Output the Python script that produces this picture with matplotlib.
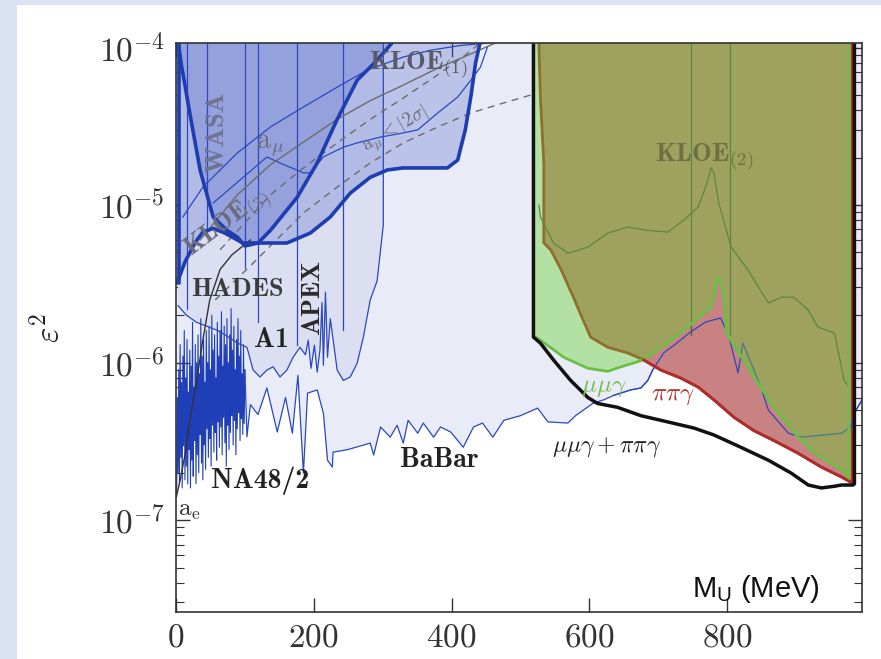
import matplotlib
matplotlib.use("Agg")
import matplotlib.pyplot as plt
from matplotlib.patches import Rectangle
from matplotlib.ticker import FixedLocator, LogLocator, FuncFormatter, NullFormatter
import numpy as np

plt.rcParams["mathtext.fontset"] = "cm"
plt.rcParams["mathtext.rm"] = "Liberation Sans"   # only used by the axis note (custom fontset)

TOP = 1.5e-4   # exclusion regions run up past the plotted range

# ── lower envelope of the combined exclusion: NA48/2 spikes, then BaBar ──────
na48_mev = [1, 2, 3, 4, 5, 6, 7, 8, 9, 10, 11, 12, 13, 14, 15, 16, 17, 18, 19,
            20, 21, 22, 23, 24, 25, 26, 27, 28, 29, 30, 31, 32, 33, 34, 35, 36,
            37, 38, 39, 40, 41, 42, 43, 44, 45, 46, 47, 48, 49, 50, 51, 52, 53,
            54, 55, 56, 57, 58, 59, 60, 61, 62, 63, 64, 65, 66, 67, 68, 69, 70,
            71, 72, 73, 74, 75, 76, 77, 78, 79, 80, 81, 82, 83, 84, 85, 86, 87,
            88, 89, 90, 91, 92, 93, 94, 95, 96, 97, 98, 99, 100]
na48_eps2 = [1.5e-7, 6.0e-7, 2.0e-7, 9.0e-7, 1.7e-7, 1.3e-6, 2.5e-7, 7.5e-7,
             1.6e-7, 1.1e-6, 3.0e-7, 1.6e-6, 1.8e-7, 8.0e-7, 2.2e-7, 1.4e-6,
             1.7e-7, 6.5e-7, 2.8e-7, 1.2e-6, 1.6e-7, 9.5e-7, 2.4e-7, 1.8e-6,
             1.9e-7, 7.0e-7, 3.2e-7, 1.3e-6, 1.7e-7, 1.0e-6, 2.6e-7, 1.5e-6,
             2.0e-7, 8.5e-7, 3.5e-7, 1.9e-6, 2.3e-7, 1.1e-6, 1.8e-7, 1.4e-6,
             3.0e-7, 7.5e-7, 2.1e-7, 1.6e-6, 3.8e-7, 1.0e-6, 2.5e-7, 1.7e-6,
             3.3e-7, 9.0e-7, 2.2e-7, 2.0e-6, 4.0e-7, 1.2e-6, 2.7e-7, 1.5e-6,
             3.6e-7, 8.0e-7, 2.4e-7, 1.8e-6, 4.2e-7, 1.1e-6, 2.9e-7, 1.6e-6,
             3.9e-7, 2.1e-6, 2.6e-7, 9.5e-7, 4.5e-7, 1.7e-6, 3.1e-7, 1.3e-6,
             2.2e-7, 1.9e-6, 4.0e-7, 1.0e-6, 2.8e-7, 1.5e-6, 3.6e-7, 2.2e-6,
             4.6e-7, 1.2e-6, 3.0e-7, 1.7e-6, 4.3e-7, 9.0e-7, 2.6e-7, 1.4e-6,
             3.8e-7, 1.9e-6, 4.8e-7, 1.1e-6, 3.2e-7, 1.6e-6, 4.4e-7, 8.5e-7,
             3.5e-7, 1.3e-6, 4.1e-7, 9.0e-7]

babar_mev = [103, 108, 119, 132, 147, 159, 169, 177, 185, 191, 205, 214, 220,
             227, 228, 249, 282, 287, 297, 311, 321, 330, 337, 351, 359, 374,
             384, 399, 417, 432, 445, 460, 476, 500, 525, 540, 569, 580, 605,
             621, 636, 660, 675, 685, 692, 708, 729, 745, 769, 791, 803, 816,
             823, 849, 860, 889, 908, 966, 980, 985, 996]
babar_eps2 = [3.38e-7, 5.4e-7, 4.68e-7, 6.9e-7, 3.62e-7, 6.0e-7, 3.56e-7, 8.3e-7,
              1.99e-7, 6.4e-7, 6.7e-7, 4.77e-7, 2.4e-7, 2.17e-7, 2.7e-7, 2.8e-7,
              3.08e-7, 2.59e-7, 3.9e-7, 3.36e-7, 4.0e-7, 3.08e-7, 4.3e-7, 3.56e-7,
              4.13e-7, 3.36e-7, 3.9e-7, 3.62e-7, 2.9e-7, 3.9e-7, 4.13e-7, 3.36e-7,
              4.3e-7, 4.6e-7, 5.14e-7, 4.2e-7, 4.13e-7, 4.6e-7, 5.5e-7, 5.8e-7,
              6.2e-7, 6.7e-7, 6.9e-7, 7.7e-7, 8.96e-7, 1.15e-6, 1.35e-6, 1.54e-6,
              1.81e-6, 1.92e-6, 1.45e-6, 8.6e-7, 1.33e-6, 7.0e-7, 5.0e-7, 3.56e-7,
              3.36e-7, 3.56e-7, 3.9e-7, 4.77e-7, 5.8e-7]

# ── A1 / APEX ────────────────────────────────────────────────────────────────
a1_mev = [3, 15, 30, 45, 60, 71, 89, 103, 112, 122, 132, 141, 151, 161, 170,
          180, 188, 192, 196, 201, 205, 209, 212, 214, 217, 220, 224, 234, 243,
          253, 263, 272, 282, 292, 301]
a1_eps2 = [2.3e-6, 2.0e-6, 1.8e-6, 1.7e-6, 1.6e-6, 1.5e-6, 1.33e-6, 1.25e-6,
           8.96e-7, 8.1e-7, 8.96e-7, 9.4e-7, 8.1e-7, 8.96e-7, 1.08e-6, 1.25e-6,
           1.12e-6, 1.39e-6, 9.2e-7, 1.29e-6, 8.7e-7, 1.2e-6, 2.4e-6, 9.6e-7,
           2.8e-6, 1.08e-6, 1.9e-6, 8.96e-7, 7.7e-7, 8.1e-7, 9.9e-7, 1.45e-6,
           2.5e-6, 3.3e-6, 7.5e-6]

# ── KLOE(1) / HADES lower boundary and WASA ──────────────────────────────────
kloe1_mev = [0, 1.5, 13, 28, 39, 54, 71, 97, 137, 161, 195, 224, 253, 282, 307,
             330, 394, 409, 420, 428, 435, 442]
kloe1_eps2 = [3.4e-6, 3.2e-6, 4.35e-6, 5.8e-6, 6.74e-6, 7.1e-6, 6.64e-6, 5.74e-6,
              5.74e-6, 5.74e-6, 6.64e-6, 8.4e-6, 1.19e-5, 1.5e-5, 1.67e-5,
              1.72e-5, 1.72e-5, 1.93e-5, 3.0e-5, 4.85e-5, 8.0e-5, 1.1e-4]

wasa_mev = [4.4, 7.3, 20, 35, 39, 54, 74, 89, 100, 119, 137, 176, 205, 234, 263,
            292, 316]
wasa_eps2 = [1.0e-4, 8.0e-5, 3.84e-5, 1.67e-5, 1.44e-5, 8.4e-6, 6.9e-6, 6.27e-6,
             5.5e-6, 5.74e-6, 6.9e-6, 1.12e-5, 1.85e-5, 3.5e-5, 6.2e-5, 8.3e-5,
             1.1e-4]

# ── a_mu band and a_e ───────────────────────────────────────────────────────
amu_mev = [35, 89, 137, 185, 234, 282, 330, 380, 428, 464]
amu_eps2 = [6.0e-6, 1.16e-5, 1.8e-5, 2.51e-5, 3.5e-5, 4.6e-5, 5.77e-5, 7.4e-5,
            9.1e-5, 1.07e-4]
amu_hi_mev = [64, 137, 185, 234, 282, 330, 380, 420, 442]
amu_hi_eps2 = [5.2e-6, 1.16e-5, 1.72e-5, 2.48e-5, 3.5e-5, 4.78e-5, 6.7e-5,
               8.95e-5, 1.07e-4]
amu_lo_mev = [57, 112, 185, 234, 282, 330, 380, 428, 476, 515]
amu_lo_eps2 = [2.5e-6, 4.28e-6, 8.9e-6, 1.3e-5, 1.85e-5, 2.48e-5, 3.13e-5,
               3.84e-5, 4.45e-5, 4.99e-5]
kloe1_top_mev = [10, 39, 89, 137, 185, 234, 278, 307, 330, 369, 413, 457]
kloe1_top_eps2 = [8.4e-6, 1.3e-5, 2.14e-5, 3.13e-5, 4.19e-5, 5.6e-5, 7.2e-5,
                  8.0e-5, 8.7e-5, 9.6e-5, 1.03e-4, 1.07e-4]
amu2s_mev = [54, 132, 151, 185, 195, 214, 243, 263, 297, 330, 351, 380, 409,
             428, 442, 452]
amu2s_eps2 = [1.03e-5, 2.02e-5, 1.85e-5, 1.6e-5, 1.6e-5, 2.02e-5, 2.33e-5,
              2.48e-5, 2.7e-5, 2.87e-5, 3.0e-5, 3.84e-5, 4.85e-5, 6.2e-5,
              7.5e-5, 1.0e-4]
ae_mev = [0.5, 6, 13, 20, 29, 39, 49, 64, 81, 108]
ae_eps2 = [1.4e-7, 1.79e-7, 2.59e-7, 4.3e-7, 7.2e-7, 1.39e-6, 2.5e-6, 3.9e-6,
           4.82e-6, 6.0e-6]

# thin vertical edges of the low-mass searches: (mass, lower end)
edge_mev = [16, 45, 100, 119, 176, 243]
edge_eps2 = [2.2e-6, 6.5e-6, 4.0e-6, 1.8e-6, 1.3e-6, 1.6e-6]

# ── KLOE-2 U -> mu mu gamma / pi pi gamma ────────────────────────────────────
mumu_mev = [519, 525, 563, 598, 627, 646, 679, 719, 743, 777, 781, 786, 791,
            796, 799, 839, 868, 903, 927, 973, 977]
mumu_eps2 = [1.45e-6, 1.43e-6, 1.08e-6, 9.2e-7, 8.8e-7, 9.4e-7, 1.04e-6, 1.39e-6,
             1.68e-6, 2.25e-6, 2.57e-6, 3.44e-6, 3.2e-6, 2.5e-6, 1.54e-6, 8.1e-7,
             5.2e-7, 3.36e-7, 2.66e-7, 1.99e-7, 1.79e-7]

pipi_edge_mev = [527, 529, 534, 534, 544, 559, 577, 588, 602, 627, 656]
pipi_edge_eps2 = [1.0e-4, 4.85e-5, 1.85e-5, 5.74e-6, 5.2e-6, 3.9e-6, 2.6e-6,
                  2.0e-6, 1.45e-6, 1.25e-6, 1.15e-6]
pipi_mev = [679, 704, 733, 758, 781, 810, 839, 868, 903, 937, 966, 980, 982]
pipi_eps2 = [1.04e-6, 8.96e-7, 7.97e-7, 6.99e-7, 5.8e-7, 4.5e-7, 3.7e-7, 3.2e-7,
             2.66e-7, 2.17e-7, 1.88e-7, 1.74e-7, 1.74e-7]

comb_mev = [519, 529, 548, 573, 598, 612, 641, 675, 714, 752, 781, 820, 860, 893,
            918, 937, 956, 966, 983, 985]
comb_eps2 = [1.45e-6, 1.33e-6, 1.04e-6, 7.7e-7, 6.0e-7, 5.5e-7, 5.2e-7, 4.6e-7,
             4.2e-7, 3.84e-7, 3.47e-7, 2.9e-7, 2.4e-7, 1.99e-7, 1.67e-7, 1.6e-7,
             1.64e-7, 1.67e-7, 1.67e-7, 1.7e-7]

kloe2_mev = [527, 529, 548, 569, 598, 627, 656, 685, 714, 737, 758, 769, 777,
             781, 788, 806, 830, 860, 879, 897, 918, 932, 956, 970, 977]
kloe2_eps2 = [1.0e-5, 8.4e-6, 5.74e-6, 4.95e-6, 5.4e-6, 6.64e-6, 7.25e-6, 6.9e-6,
              6.74e-6, 8.0e-6, 9.7e-6, 1.3e-5, 1.72e-5, 1.6e-5, 1.03e-5, 5.4e-6,
              3.9e-6, 2.39e-6, 2.6e-6, 2.6e-6, 2.15e-6, 1.68e-6, 1.54e-6, 7.7e-7,
              7.0e-7]
kloe2_vline_mev = [748, 804]


def above(ax, x, y, **kw):
    """Fill the region above a limit curve up to the top of the plot."""
    ax.fill(list(x) + [x[-1], x[0]], list(y) + [TOP, TOP], **kw)


fig = plt.figure(figsize=(8.81, 6.59), dpi=100, facecolor="#dae3f3")
fig.patches.append(Rectangle((17 / 881, 0), 1 - 17 / 881, 654 / 659,
                             transform=fig.transFigure, facecolor="white",
                             edgecolor="none", zorder=-10))
ax = fig.add_axes([176 / 881, 47 / 659, 686 / 881, 569 / 659])
ax.set_yscale("log")
ax.set_xlim(0, 996)
ax.set_ylim(2.61e-8, 1.068e-4)

thin = dict(color="#2a48c0", lw=0.9)
thick = dict(color="#1d3db0", lw=2.6, solid_capstyle="round")

# fills, back to front
low_mev = na48_mev + babar_mev
low_eps2 = na48_eps2 + babar_eps2
above(ax, low_mev, low_eps2, color="#e9ebf6", lw=0, zorder=1)
above(ax, a1_mev, a1_eps2, color="#dcdff2", lw=0, zorder=2)
above(ax, kloe1_mev, kloe1_eps2, color="#5468c8", alpha=0.30, lw=0, zorder=3)
ax.fill(wasa_mev + [wasa_mev[-1], wasa_mev[0]], wasa_eps2 + [TOP, TOP],
        color="#5468c8", alpha=0.30, lw=0, zorder=4)

# low-mass lines
ax.plot(na48_mev, na48_eps2, color="#1f3fb8", lw=0.8, zorder=6)
ax.plot(low_mev[len(na48_mev) - 1:], low_eps2[len(na48_mev) - 1:], zorder=6, **thin)
ax.plot(a1_mev + [a1_mev[-1]], a1_eps2 + [TOP], zorder=6, **thin)
for m, e in zip(edge_mev, edge_eps2):
    ax.plot([m, m], [e, TOP], zorder=6, **thin)
ax.plot(kloe1_top_mev, kloe1_top_eps2, zorder=6, **thin)
ax.plot(amu2s_mev, amu2s_eps2, zorder=6, **thin)
ax.plot(amu_mev, amu_eps2, color="#6b6b6b", lw=1.0, zorder=6)
ax.plot(amu_hi_mev, amu_hi_eps2, color="#6b6b6b", lw=1.0, ls=(0, (5, 4)), zorder=6)
ax.plot(amu_lo_mev, amu_lo_eps2, color="#6b6b6b", lw=1.0, ls=(0, (5, 4)), zorder=6)
ax.plot(ae_mev, ae_eps2, color="#333333", lw=1.0, zorder=6)
ax.plot(wasa_mev, wasa_eps2, zorder=7, **thick)
ax.plot(kloe1_mev[1:], kloe1_eps2[1:], zorder=7, **thick)
ax.plot([4, 4], [kloe1_eps2[1], TOP], zorder=7, **thick)

# KLOE-2 pi pi gamma (opaque) under mu mu gamma (translucent)
red_x = [pipi_edge_mev[0]] + pipi_edge_mev + pipi_mev + [pipi_mev[-1]]
red_y = [TOP] + pipi_edge_eps2 + pipi_eps2 + [TOP]
ax.fill(red_x, red_y, color="#c98282", lw=0, zorder=8)
ax.plot(red_x, red_y, color="#b02c2c", lw=2.0, zorder=8.5)
ax.plot(babar_mev[40:], babar_eps2[40:], zorder=8.6, **thin)
ax.plot(kloe2_mev, kloe2_eps2, color="#55584a", lw=0.9, zorder=8.6)
for m in kloe2_vline_mev:
    ax.plot([m, m], [1.5e-6, TOP], color="#55584a", lw=0.9, zorder=8.6)
above(ax, mumu_mev, mumu_eps2, color="#62d22a", alpha=0.40, lw=0, zorder=9)
ax.plot(mumu_mev + [mumu_mev[-1]], mumu_eps2 + [TOP], color="#6abf45", lw=2.0, zorder=10)
ax.plot(pipi_mev, pipi_eps2, color="#b02c2c", lw=2.0, zorder=10)
ax.plot([comb_mev[0]] + comb_mev + [comb_mev[-1]], [TOP] + comb_eps2 + [TOP],
        color="#111111", lw=2.5, zorder=11)

# experiment labels (bold Computer Modern)
bold = [
    ("KLOE$_{(1)}$", 352, 7.7e-5, 0, "#5a5a66", 19),
    ("KLOE$_{(2)}$", 767, 2.0e-5, 0, "#6d7040", 19),
    ("WASA", 60, 2.9e-5, 90, "#6e7390", 19),
    ("KLOE$_{(3)}$", 76, 7.6e-6, 37, "#6c6c7c", 19),
    ("HADES", 89, 2.9e-6, 0, "#3c3c3c", 19),
    ("APEX", 199, 2.6e-6, 90, "#2a2a2a", 19),
    ("A1", 138, 1.39e-6, 0, "#222222", 20),
    ("NA48/2", 122, 1.79e-7, 0, "#222222", 20),
    ("BaBar", 383, 2.4e-7, 0, "#222222", 20),
]
for s, x, y, rot, col, fs in bold:
    ax.text(x, y, s, rotation=rot, color=col, fontsize=fs, family="cmb10",
            ha="center", va="center", zorder=12, clip_on=True)

plain = [
    (r"$\mathrm{a}_\mu$", 137, 2.4e-5, 0, "#6c6c7c", 20),
    (r"$\mathrm{a}_\mu<|2\sigma|$", 319, 3.0e-5, 30, "#6c6c7c", 14),
    (r"$\mathrm{a}_\mathrm{e}$", 20, 1.16e-7, 0, "#333333", 18),
    (r"$\mu\mu\gamma$", 621, 7.0e-7, 0, "#72c050", 18),
    (r"$\pi\pi\gamma$", 721, 6.2e-7, 0, "#b03535", 18),
    (r"$\mu\mu\gamma+\pi\pi\gamma$", 625, 2.9e-7, 0, "#222222", 17),
]
for s, x, y, rot, col, fs in plain:
    ax.text(x, y, s, rotation=rot, color=col, fontsize=fs, ha="center",
            va="center", zorder=12, clip_on=True)

ax.text(0.752, 0.026, r"M$_\mathrm{U}$ (MeV)", transform=ax.transAxes,
        fontsize=21, family="Liberation Sans", math_fontfamily="custom",
        ha="left", va="baseline", color="#111111", zorder=12)

ax.set_ylabel(r"$\varepsilon^2$", fontsize=24, color="#222222")
ax.yaxis.set_label_coords(-0.16, 0.5)

# axes and ticks
ax.xaxis.set_major_locator(FixedLocator([0, 200, 400, 600, 800]))
ax.xaxis.set_major_formatter(FuncFormatter(lambda v, p: r"$%d$" % v))
ax.yaxis.set_major_locator(FixedLocator([1e-7, 1e-6, 1e-5, 1e-4]))
ax.yaxis.set_major_formatter(FuncFormatter(lambda v, p: r"$10^{%d}$" % round(np.log10(v))))
ax.yaxis.set_minor_locator(LogLocator(base=10, subs=np.arange(2, 10), numticks=20))
ax.yaxis.set_minor_formatter(NullFormatter())
ax.tick_params(which="both", direction="in", top=True, right=True,
               colors="#333333", labelsize=24, zorder=13)
ax.tick_params(which="major", length=10, width=1.0)
ax.tick_params(which="minor", length=6, width=0.8)
ax.tick_params(axis="x", pad=6)
ax.tick_params(axis="y", pad=8)
for sp in ax.spines.values():
    sp.set_color("#333333")
    sp.set_linewidth(1.2)
    sp.set_zorder(14)

fig.savefig("out.png", dpi=100, facecolor=fig.get_facecolor())
